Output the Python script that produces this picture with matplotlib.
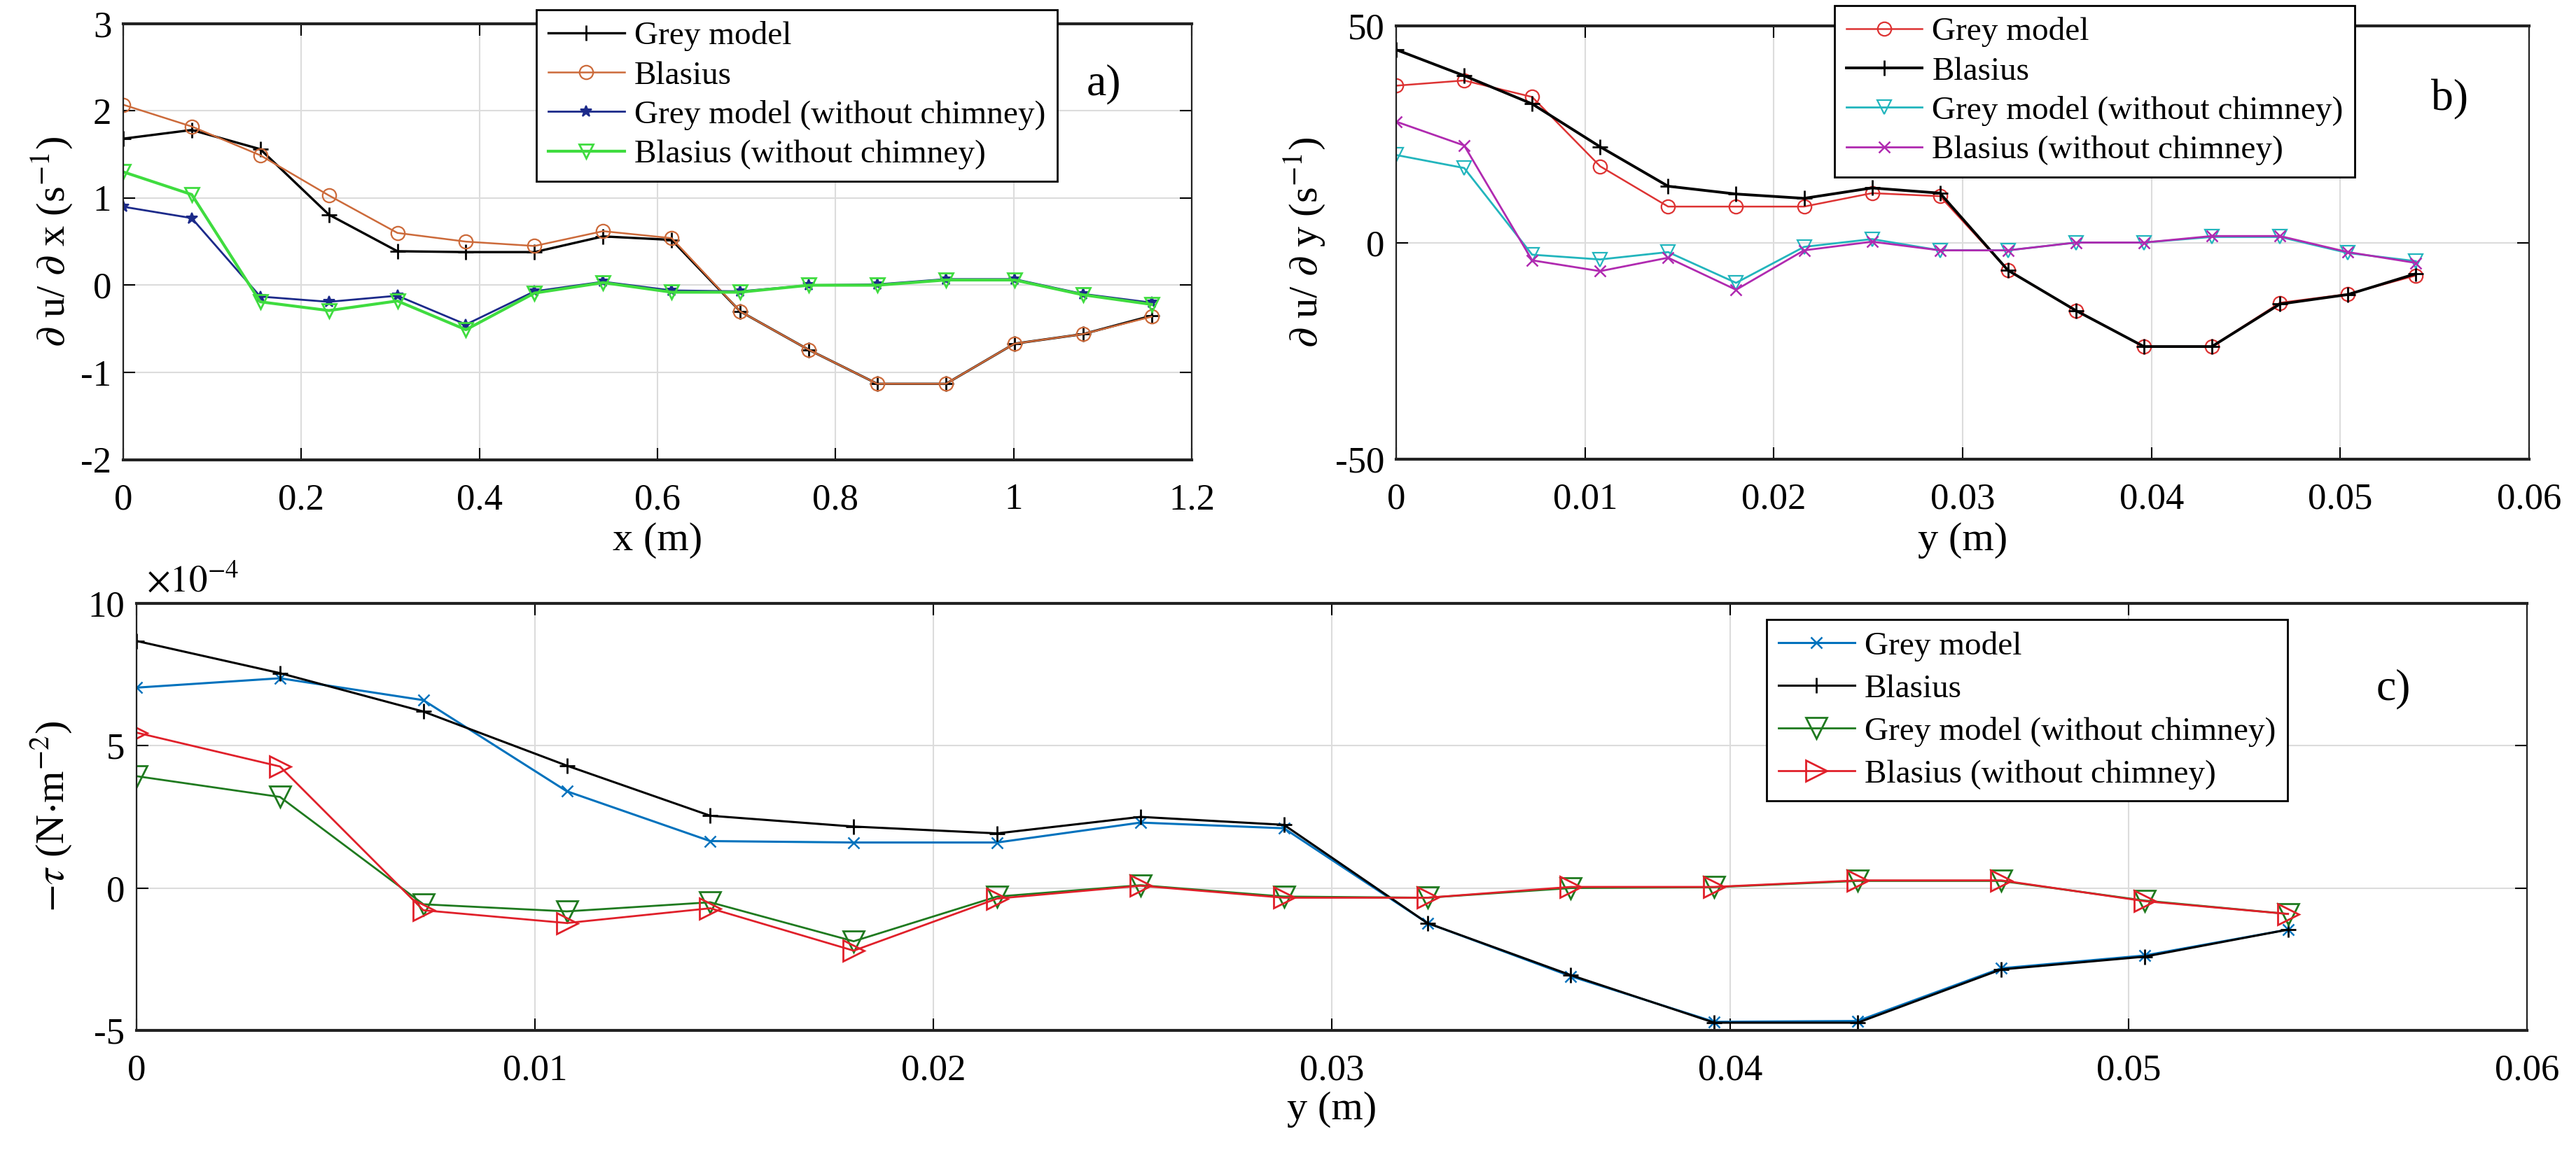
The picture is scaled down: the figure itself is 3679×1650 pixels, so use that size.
'''recreate the three-panel velocity gradient / wall shear figure
'''
import matplotlib
matplotlib.use('Agg')
import matplotlib.pyplot as plt
from matplotlib.ticker import FuncFormatter

plt.rcParams['font.family'] = ['Liberation Serif', 'DejaVu Serif']
plt.rcParams['mathtext.fontset'] = 'stix'
plt.rcParams['axes.unicode_minus'] = False

# panel a) : du/dx along x
x_a = [0, 0.077, 0.154, 0.231, 0.308, 0.385, 0.462, 0.539,
       0.616, 0.693, 0.770, 0.847, 0.924, 1.001, 1.078, 1.155]
grey_a = [1.68, 1.78, 1.56, 0.81, 0.39, 0.38, 0.38, 0.56,
          0.52, -0.30, -0.74, -1.13, -1.13, -0.67, -0.56, -0.35]
blasius_a = [2.07, 1.82, 1.49, 1.03, 0.60, 0.50, 0.45, 0.62,
             0.54, -0.30, -0.74, -1.13, -1.13, -0.67, -0.56, -0.36]
grey_nc_a = [0.90, 0.77, -0.13, -0.19, -0.12, -0.45, -0.07, 0.04,
             -0.06, -0.07, 0.00, 0.01, 0.07, 0.07, -0.10, -0.20]
blasius_nc_a = [1.30, 1.04, -0.19, -0.29, -0.18, -0.51, -0.09, 0.03,
                -0.08, -0.08, 0.00, 0.00, 0.06, 0.06, -0.11, -0.22]

# panel b) : du/dy along y
y_b = [0, 0.0036, 0.0072, 0.0108, 0.0144, 0.018, 0.0216, 0.0252,
       0.0288, 0.0324, 0.036, 0.0396, 0.0432, 0.0468, 0.0504, 0.054]
grey_b = [36.2, 37.4, 33.6, 17.6, 8.3, 8.3, 8.3, 11.4,
          10.7, -6.4, -15.7, -24.0, -24.0, -13.9, -11.9, -7.6]
blasius_b = [44.5, 38.5, 32.0, 22.1, 13.0, 11.2, 10.2, 12.6,
             11.4, -6.4, -15.7, -24.0, -24.0, -14.2, -12.0, -7.2]
grey_nc_b = [20.2, 17.2, -2.8, -3.9, -2.2, -9.3, -1.0, 0.8,
             -1.8, -1.8, 0.0, 0.0, 1.3, 1.3, -2.4, -4.3]
blasius_nc_b = [27.9, 22.4, -4.1, -6.6, -3.5, -10.9, -1.8, 0.2,
                -1.8, -1.8, 0.0, 0.0, 1.5, 1.5, -2.2, -4.7]

# panel c) : -tau along y (values in 1e-4 N/m^2)
y_c = y_b
grey_c = [7.04, 7.37, 6.60, 3.40, 1.65, 1.60, 1.60, 2.30,
          2.10, -1.23, -3.10, -4.70, -4.67, -2.82, -2.37, -1.46]
blasius_c = [8.68, 7.55, 6.20, 4.30, 2.54, 2.16, 1.92, 2.50,
             2.22, -1.23, -3.06, -4.73, -4.73, -2.86, -2.41, -1.46]
grey_nc_c = [3.93, 3.20, -0.57, -0.82, -0.50, -1.87, -0.30, 0.10,
             -0.30, -0.34, 0.00, 0.03, 0.25, 0.25, -0.44, -0.91]
blasius_nc_c = [5.46, 4.27, -0.78, -1.23, -0.71, -2.20, -0.37, 0.08,
                -0.34, -0.34, 0.04, 0.04, 0.27, 0.27, -0.46, -0.91]

TICK_FS = 38
LEG_FS = 34
LABEL_FS = 42


def style_axes(ax):
    ax.grid(True, color='#dcdcdc', linewidth=1.5)
    ax.set_axisbelow(True)
    ax.tick_params(direction='in', top=True, right=True, length=12,
                   width=1.5, labelsize=TICK_FS)
    ax.tick_params(axis='x', pad=24)
    ax.tick_params(axis='y', pad=12)
    for side, sp in ax.spines.items():
        sp.set_color('#222222')
        sp.set_linewidth(3 if side in ('top', 'bottom') else 1.6)


def add_legend(ax, anchor, spacing=0.28):
    leg = ax.legend(loc='upper left', bbox_to_anchor=anchor, fontsize=LEG_FS,
                    fancybox=False, framealpha=1, edgecolor='black',
                    handlelength=2.3, handletextpad=0.3, borderpad=0.35,
                    labelspacing=spacing, borderaxespad=0)
    leg.get_frame().set_linewidth(2)
    leg.set_zorder(10)
    return leg


fig = plt.figure(figsize=(36.79, 16.5), dpi=100)
ax_a = fig.add_axes([0.0478, 0.602, 0.4148, 0.3776])
ax_b = fig.add_axes([0.542, 0.6024, 0.4398, 0.3752])
ax_c = fig.add_axes([0.053, 0.1079, 0.928, 0.3697])

# a)
mfc = 'none'
ax_a.plot(x_a, grey_a, '-+', color='black', lw=2.4, ms=16, mew=2,
          label='Grey model')
ax_a.plot(x_a, blasius_a, '-o', color='#cc6a3a', lw=1.8, ms=14, mew=1.6,
          mfc=mfc, label='Blasius')
ax_a.plot(x_a, grey_nc_a, '-*', color='#1c2a8a', lw=2, ms=12, mew=1.5,
          label='Grey model (without chimney)')
ax_a.plot(x_a, blasius_nc_a, '-v', color='#3fdc3f', lw=3, ms=14, mew=2,
          mfc=mfc, label='Blasius (without chimney)')
ax_a.set_xlim(0, 1.2)
ax_a.set_ylim(-2, 3)
ax_a.set_xticks([0, 0.2, 0.4, 0.6, 0.8, 1.0, 1.2])
ax_a.set_xticklabels(['0', '0.2', '0.4', '0.6', '0.8', '1', '1.2'])
ax_a.set_yticks([-2, -1, 0, 1, 2, 3])
ax_a.set_xlabel('x (m)', fontsize=LABEL_FS, labelpad=6)
ax_a.set_ylabel(r'$\partial$ u/ $\partial$ x (s$^{-1}$)', fontsize=LABEL_FS,
                labelpad=6)
style_axes(ax_a)
add_legend(ax_a, (0.387, 1.032))
ax_a.text(0.918, 0.86, 'a)', transform=ax_a.transAxes, fontsize=46,
          ha='center', va='center')

# b)
ax_b.plot(y_b, grey_b, '-o', color='#dd3333', lw=1.8, ms=14, mew=1.6,
          mfc=mfc, label='Grey model')
ax_b.plot(y_b, blasius_b, '-+', color='black', lw=2.8, ms=16, mew=2,
          label='Blasius')
ax_b.plot(y_b, grey_nc_b, '-v', color='#22b5bd', lw=2, ms=14, mew=1.6,
          mfc=mfc, label='Grey model (without chimney)')
ax_b.plot(y_b, blasius_nc_b, '-x', color='#b02ab0', lw=2, ms=11, mew=1.8,
          label='Blasius (without chimney)')
ax_b.set_xlim(0, 0.06)
ax_b.set_ylim(-50, 50)
ax_b.set_xticks([0, 0.01, 0.02, 0.03, 0.04, 0.05, 0.06])
ax_b.set_xticklabels(['0', '0.01', '0.02', '0.03', '0.04', '0.05', '0.06'])
ax_b.set_yticks([-50, 0, 50])
ax_b.set_xlabel('y (m)', fontsize=LABEL_FS, labelpad=6)
ax_b.set_ylabel(r'$\partial$ u/ $\partial$ y (s$^{-1}$)', fontsize=LABEL_FS,
                labelpad=8)
style_axes(ax_b)
add_legend(ax_b, (0.387, 1.047))
ax_b.text(0.93, 0.83, 'b)', transform=ax_b.transAxes, fontsize=46,
          ha='center', va='center')

# c)
scale = 1e-4
ax_c.plot(y_c, [v * scale for v in grey_c], '-x', color='#0072bd', lw=2.2,
          ms=11, mew=1.8, label='Grey model')
ax_c.plot(y_c, [v * scale for v in blasius_c], '-+', color='black', lw=2.2,
          ms=16, mew=2, label='Blasius')
ax_c.plot(y_c, [v * scale for v in grey_nc_c], '-v', color='#1f7a1f',
          lw=2, ms=22, mew=2, mfc=mfc, label='Grey model (without chimney)')
ax_c.plot(y_c, [v * scale for v in blasius_nc_c], '->', color='#e0202a',
          lw=2, ms=22, mew=2, mfc=mfc, label='Blasius (without chimney)')
ax_c.set_xlim(0, 0.06)
ax_c.set_ylim(-5e-4, 10e-4)
ax_c.set_xticks([0, 0.01, 0.02, 0.03, 0.04, 0.05, 0.06])
ax_c.set_xticklabels(['0', '0.01', '0.02', '0.03', '0.04', '0.05', '0.06'])
ax_c.set_yticks([-5e-4, 0, 5e-4, 10e-4])
ax_c.yaxis.set_major_formatter(FuncFormatter(lambda v, p: f'{v / scale:.0f}'))
ax_c.text(0.004, 1.01, r'$\times10^{-4}$', transform=ax_c.transAxes,
          fontsize=TICK_FS, ha='left', va='bottom')
ax_c.set_xlabel('y (m)', fontsize=LABEL_FS, labelpad=4)
ax_c.set_ylabel(r'$-\tau$ (N$\cdot$m$^{-2}$)', fontsize=LABEL_FS, labelpad=14)
style_axes(ax_c)
add_legend(ax_c, (0.682, 0.962), spacing=0.38)
ax_c.text(0.944, 0.80, 'c)', transform=ax_c.transAxes, fontsize=46,
          ha='center', va='center')

fig.savefig('out.png', dpi=100)
